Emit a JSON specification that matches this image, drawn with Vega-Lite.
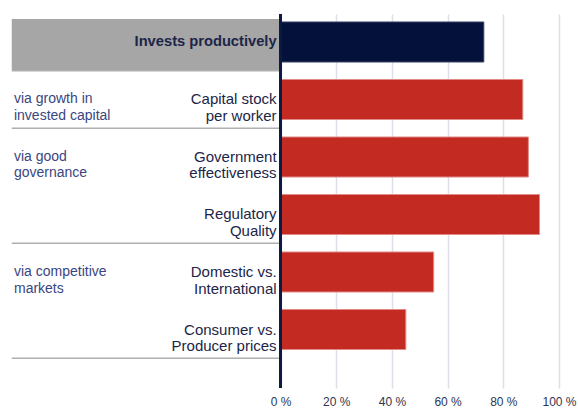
{
  "$schema": "https://vega.github.io/schema/vega-lite/v6.json",
  "width": 557,
  "height": 374,
  "autosize": {"type": "none"},
  "padding": {"left": 2, "top": 14, "right": 19, "bottom": 22},
  "background": "white",
  "config": {
    "view": {"stroke": null},
    "font": "Liberation Sans"
  },
  "data": {
    "values": [
      {"cat": "invests", "label": "Invests productively", "group": "", "value": 73, "kind": "header", "section_end": true},
      {"cat": "capital", "label": "Capital stock|per worker", "group": "via growth in|invested capital", "value": 87, "kind": "sub", "section_end": true},
      {"cat": "gov", "label": "Government|effectiveness", "group": "via good|governance", "value": 89, "kind": "sub", "section_end": false},
      {"cat": "reg", "label": "Regulatory|Quality", "group": "", "value": 93, "kind": "sub", "section_end": true},
      {"cat": "dom", "label": "Domestic vs.|International", "group": "via competitive|markets", "value": 55, "kind": "sub", "section_end": false},
      {"cat": "cons", "label": "Consumer vs.|Producer prices", "group": "", "value": 45, "kind": "sub", "section_end": true}
    ]
  },
  "encoding": {
    "y": {
      "field": "cat",
      "type": "nominal",
      "axis": null,
      "scale": {"domain": ["invests", "capital", "gov", "reg", "dom", "cons"], "paddingInner": 0.3043, "paddingOuter": 0.4043, "align": 0.172}
    }
  },
  "layer": [
    {
      "transform": [{"filter": "datum.kind == 'header'"}],
      "mark": {"type": "bar", "color": "#a6a6a6", "height": {"band": 1.275}, "yOffset": 2.5},
      "encoding": {
        "x": {
          "datum": -96.5,
          "type": "quantitative",
          "scale": {"domain": [-100, 100], "nice": false, "zero": false},
          "axis": {
            "values": [0, 20, 40, 60, 80, 100],
            "labelExpr": "datum.value + ' %'",
            "title": null,
            "domain": false,
            "ticks": false,
            "grid": true,
            "gridColor": "#dde0e8",
            "gridWidth": 1.5,
            "labelFontSize": 12,
            "labelColor": "#2e3550",
            "labelPadding": 8,
            "labelFlush": false
          }
        },
        "x2": {"datum": 0}
      }
    },
    {
      "transform": [{"filter": "datum.section_end"}],
      "mark": {"type": "rule", "color": "#b0b0b0", "strokeWidth": 1.5},
      "encoding": {
        "x": {"datum": -96.5, "type": "quantitative"},
        "x2": {"datum": 0},
        "y": {"field": "cat", "type": "nominal", "bandPosition": 1.22}
      }
    },
    {
      "mark": {"type": "bar", "strokeWidth": 1},
      "encoding": {
        "x": {"field": "value", "type": "quantitative"},
        "color": {
          "field": "kind",
          "type": "nominal",
          "scale": {"domain": ["header", "sub"], "range": ["#03113b", "#c22a22"]},
          "legend": null
        },
        "stroke": {
          "field": "kind",
          "type": "nominal",
          "scale": {"domain": ["header", "sub"], "range": ["#3a4466", "#e28a86"]},
          "legend": null
        }
      }
    },
    {
      "mark": {"type": "rule", "color": "#0b1a40", "strokeWidth": 2},
      "encoding": {"x": {"datum": 0, "type": "quantitative"}, "y": null}
    },
    {
      "transform": [{"filter": "datum.kind == 'sub'"}],
      "mark": {"type": "text", "align": "right", "baseline": "middle", "lineBreak": "|", "lineHeight": 16.5, "fontSize": 15, "color": "#1c2548"},
      "encoding": {
        "x": {"datum": -1.4, "type": "quantitative"},
        "text": {"field": "label"}
      }
    },
    {
      "transform": [{"filter": "datum.kind == 'header'"}],
      "mark": {"type": "text", "align": "right", "baseline": "middle", "fontSize": 14.7, "fontWeight": "bold", "color": "#1c2548"},
      "encoding": {
        "x": {"datum": -1.4, "type": "quantitative"},
        "text": {"field": "label"}
      }
    },
    {
      "transform": [{"filter": "datum.group != ''"}],
      "mark": {"type": "text", "align": "left", "baseline": "middle", "lineBreak": "|", "lineHeight": 16.5, "fontSize": 14, "color": "#3a4680"},
      "encoding": {
        "x": {"datum": -95.7, "type": "quantitative"},
        "text": {"field": "group"}
      }
    }
  ]
}
